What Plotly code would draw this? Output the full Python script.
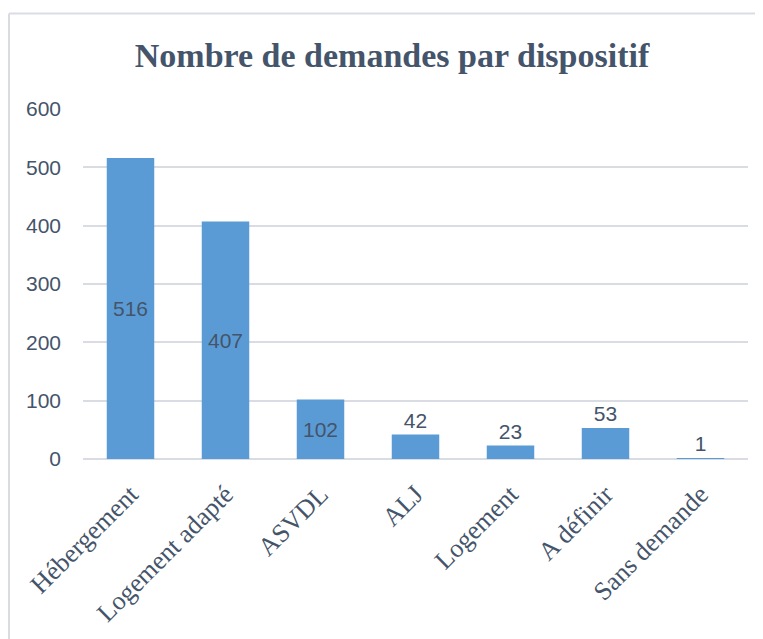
import plotly.graph_objects as go

categories = ["Hébergement", "Logement adapté", "ASVDL", "ALJ", "Logement", "A définir", "Sans demande"]
values = [516, 407, 102, 42, 23, 53, 1]
y_ticks = [0, 100, 200, 300, 400, 500, 600]
title_text = "Nombre de demandes par dispositif"

text_pos = ["inside" if v > 80 else "outside" for v in values]

fig = go.Figure()
fig.add_trace(go.Bar(
    x=categories, y=values,
    text=[str(v) for v in values],
    textposition=text_pos,
    insidetextanchor="middle",
    textangle=0,
    cliponaxis=False,
    textfont=dict(family="Liberation Sans", size=21, color="#44546A"),
    marker=dict(color="#5B9BD5", line=dict(width=0)),
    width=0.5,
))

border = dict(color="#D9DDE3", width=2)
fig.update_layout(
    width=755, height=631,
    paper_bgcolor="white", plot_bgcolor="white",
    margin=dict(l=75, r=15, t=101, b=180, autoexpand=False),
    showlegend=False,
    uniformtext=dict(mode=False),
    title=dict(text="<b>" + title_text + "</b>", x=384 / 755, xref="container", xanchor="center",
               y=1 - 47 / 631, yref="container", yanchor="middle",
               font=dict(family="Liberation Serif", size=34, color="#44546A")),
    xaxis=dict(tickangle=-45, showgrid=False, showline=False, ticks="", ticklabelstandoff=14,
               tickfont=dict(family="Liberation Serif", size=26, color="#44546A")),
    yaxis=dict(range=[0, 600], tickvals=y_ticks, showgrid=True, gridcolor="#D9DDE3", gridwidth=1.5,
               zeroline=True, zerolinecolor="#D9DDE3", zerolinewidth=1.5,
               showline=False, ticks="", ticklabelstandoff=21,
               tickfont=dict(family="Liberation Sans", size=21, color="#44546A")),
    shapes=[
        dict(type="line", xref="paper", yref="paper", x0=-0.1113, x1=1.3, y0=1.273, y1=1.273,
             line=border, layer="below"),
        dict(type="line", xref="paper", yref="paper", x0=-0.1113, x1=-0.1113, y0=-0.9, y1=1.273,
             line=border, layer="below"),
    ],
)

fig.write_html("out.html")
